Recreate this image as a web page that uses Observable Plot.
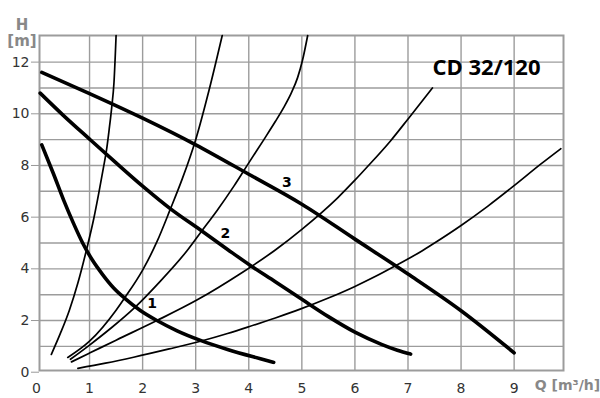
<!DOCTYPE html>
<html><head><meta charset="utf-8">
<script src="https://cdn.jsdelivr.net/npm/d3@7"></script>
<script src="https://cdn.jsdelivr.net/npm/@observablehq/plot@0.6"></script>
<style>
html,body{margin:0;padding:0;background:#fff;}
#chart{width:600px;height:398px;}
#chart svg [aria-label="y-axis tick"]{stroke:#999;}
</style></head><body><div id="chart"></div>
<script>
// tick labels and grid positions
const xTicks = [0,1,2,3,4,5,6,7,8,9];
const yTicks = [0,2,4,6,8,10,12];
const xGrid = [1,2,3,4,5,6,7,8,9];
const yGrid = [1,2,3,4,5,6,7,8,9,10,11,12];

// pump curves (thick) Q [m3/h], H [m]
const pump1Q = [0.1,0.32,0.51,0.7,0.87,1.05,1.25,1.45,1.67,1.95,2.27,2.65,3.09,3.6,4.22,4.47];
const pump1H = [8.8,7.68,6.67,5.75,5.0,4.35,3.77,3.27,2.85,2.4,2.0,1.6,1.23,0.88,0.52,0.38];
const pump2Q = [0.07,0.5,1.0,1.5,2.0,2.52,3.09,3.6,4.03,4.5,5.0,5.5,6.0,6.5,6.8,7.05];
const pump2H = [10.8,9.95,9.02,8.1,7.2,6.33,5.5,4.75,4.13,3.5,2.82,2.15,1.55,1.08,0.85,0.7];
const pump3Q = [0.1,1,2,3,4,5,6,7,8,9];
const pump3H = [11.6,10.78,9.83,8.8,7.66,6.5,5.15,3.8,2.38,0.75];

// system curves (thin)
const sysAQ = [0.28,0.45,0.62,0.78,0.95,1.08,1.18,1.26,1.32,1.37,1.42,1.46,1.50];
const sysAH = [0.69,1.5,2.4,3.45,4.8,5.95,7.0,7.9,8.6,9.4,10.3,11.2,13.03];
const sysBQ = [0.59,1.0,1.5,1.67,2.0,2.27,2.52,2.75,3.0,3.25,3.5];
const sysBH = [0.57,1.2,2.4,2.9,3.95,5.05,6.3,7.5,9.0,10.9,13.03];
const sysCQ = [0.64,1.0,1.4,1.86,2.3,2.84,3.09,3.4,3.72,4.0,4.3,4.5,4.66,4.8,4.92,5.01,5.11];
const sysCH = [0.5,1.05,1.7,2.52,3.45,4.71,5.4,6.25,7.2,8.1,9.05,9.7,10.25,10.8,11.4,12.05,13.03];
const sysDQ = [0.66,1.0,1.5,2.27,3.03,3.84,4.5,5.0,5.67,6.0,6.23,6.67,7.02,7.46];
const sysDH = [0.4,0.74,1.24,2.0,2.8,3.81,4.73,5.53,6.74,7.43,7.94,8.95,9.85,11.0];
const sysEQ = [0.78,1.3,1.83,2.5,3.09,3.6,4.0,4.5,4.98,5.5,5.98,6.4,6.8,7.27,7.5,8.0,8.5,9.0,9.5,9.88];
const sysEH = [0.15,0.35,0.58,0.9,1.2,1.5,1.76,2.1,2.45,2.87,3.3,3.72,4.16,4.7,5.0,5.68,6.42,7.22,8.05,8.65];

// curve labels
const labelText = ["1","2","3"];
const labelQ = [2.18,3.56,4.72];
const labelH = [2.65,5.36,7.36];

const title = "CD 32/120";

function rows(id, qs, hs){ return qs.map((q,i)=>({id, q, h: hs[i]})); }
const thick = [...rows("1",pump1Q,pump1H), ...rows("2",pump2Q,pump2H), ...rows("3",pump3Q,pump3H)];
const thin = [...rows("a",sysAQ,sysAH), ...rows("b",sysBQ,sysBH), ...rows("c",sysCQ,sysCH), ...rows("d",sysDQ,sysDH), ...rows("e",sysEQ,sysEH)];
const labels = labelText.map((t,i)=>({t, q: labelQ[i], h: labelH[i]}));

const gridColor = "#9c9c9c";
const chart = Plot.plot({
  width: 600, height: 398,
  marginLeft: 39, marginRight: 37, marginTop: 35, marginBottom: 28,
  x: {domain: [0.057, 9.93]},
  y: {domain: [0.066, 13.03]},
  style: {fontFamily: "DejaVu Sans, sans-serif", fontSize: "14px", color: "#333", background: "#fff", overflow: "visible"},
  marks: [
    Plot.ruleX(xGrid, {stroke: gridColor, strokeWidth: 1.4}),
    Plot.ruleY(yGrid, {stroke: gridColor, strokeWidth: 1.4}),
    Plot.frame({stroke: gridColor, strokeWidth: 2}),
    Plot.axisX({ticks: xTicks, tickSize: 0, tickPadding: 13, label: null, fontSize: 14}),
    Plot.axisY({ticks: yTicks, tickSize: 8, tickPadding: 2, label: null, fontSize: 14}),
    Plot.line(thin, {x: "q", y: "h", z: "id", stroke: "#000", strokeWidth: 1.7, curve: "monotone-x"}),
    Plot.line(thick, {x: "q", y: "h", z: "id", stroke: "#000", strokeWidth: 3.6, strokeLinecap: "round", curve: "monotone-x"}),
    Plot.text(labels, {x: "q", y: "h", text: "t", fontWeight: "bold", fontSize: 14, fill: "#000", fontFamily: "DejaVu Sans"}),
    Plot.text([title], {text: d => d, frameAnchor: "top-right", dx: -77, dy: 24, textAnchor: "middle",
      fontFamily: "Open Sans", fontWeight: "bold", fontSize: 22, fill: "#000"}),
    Plot.text(["H"], {text: d => d, frameAnchor: "top-left", dx: -17.5, dy: -16.5, textAnchor: "middle",
      fontWeight: "bold", fontSize: 15, fill: "#888"}),
    Plot.text(["[m]"], {text: d => d, frameAnchor: "top-left", dx: -17.5, dy: 0, textAnchor: "middle",
      fontWeight: "bold", fontSize: 15, fill: "#888"}),
    Plot.text(["Q [m³/h]"], {text: d => d, frameAnchor: "bottom-right", dx: 4, dy: 19, textAnchor: "middle",
      fontWeight: "bold", fontSize: 14, fill: "#888"})
  ]
});
document.getElementById("chart").appendChild(chart);
</script>
</body></html>
